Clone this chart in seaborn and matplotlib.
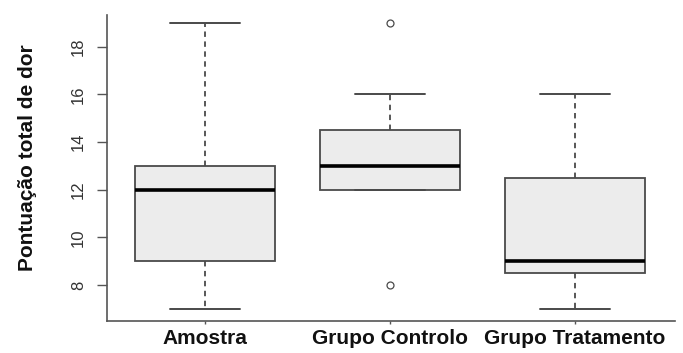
import matplotlib
matplotlib.use("Agg")
import matplotlib.pyplot as plt
import seaborn as sns
import pandas as pd

# Raw pain scores (constructed so the box statistics match the figure)
amostra = [7, 8, 9, 9, 10, 12, 12, 13, 13, 16, 19]
grupo_controlo = [8, 12, 12, 12, 13, 13, 14, 14, 15, 16, 19]
grupo_tratamento = [7, 8, 8, 9, 9, 9, 10, 12, 13, 14, 16]
categorias = ["Amostra", "Grupo Controlo", "Grupo Tratamento"]
y_ticks = [8, 10, 12, 14, 16, 18]

df = pd.DataFrame({
    "grupo": [categorias[0]] * len(amostra) + [categorias[1]] * len(grupo_controlo)
             + [categorias[2]] * len(grupo_tratamento),
    "valor": amostra + grupo_controlo + grupo_tratamento,
})

sns.set_style("white")
plt.rcParams["font.family"] = ["Liberation Sans", "DejaVu Sans"]

fig = plt.figure(figsize=(6.83, 3.53), dpi=100)
ax = fig.add_axes([107 / 683, 1 - 321 / 353, (675 - 107) / 683, (321 - 15) / 353])

edge = "#4a4a4a"
sns.boxplot(
    data=df, x="grupo", y="valor", order=categorias, ax=ax,
    color="#ececec", saturation=1, linecolor=edge, linewidth=1.3, width=0.76,
    whis=1.5,
    whiskerprops=dict(linestyle=(0, (3, 2.5)), color=edge, linewidth=1.3),
    capprops=dict(color=edge, linewidth=1.4),
    medianprops=dict(color="black", linewidth=2.6),
    flierprops=dict(marker="o", markerfacecolor="none", markeredgecolor=edge,
                    markersize=5, markeredgewidth=0.9),
)

ax.set_xlim(-0.53, 2.54)
ax.set_ylim(6.49, 19.33)
ax.set_yticks(y_ticks)
ax.set_yticklabels([str(t) for t in y_ticks], rotation=90, va="center",
                   fontsize=12, color="#333333")
ax.tick_params(axis="y", length=7, width=1, color="#555555", pad=8, left=True)
ax.tick_params(axis="x", length=2, width=1, color="#555555", pad=3.5, bottom=True)
for lbl in ax.get_xticklabels():
    lbl.set_fontsize(15)
    lbl.set_fontweight("bold")
    lbl.set_color("#111111")

ax.set_xlabel("")
ax.set_ylabel("Pontuação total de dor", fontsize=15, fontweight="bold", color="#111111")
ax.yaxis.set_label_coords(-0.124, 0.533)

for s in ["top", "right"]:
    ax.spines[s].set_visible(False)
for s in ["left", "bottom"]:
    ax.spines[s].set_color("#555555")
    ax.spines[s].set_linewidth(1.2)

fig.savefig("out.png", dpi=100, facecolor="white")
